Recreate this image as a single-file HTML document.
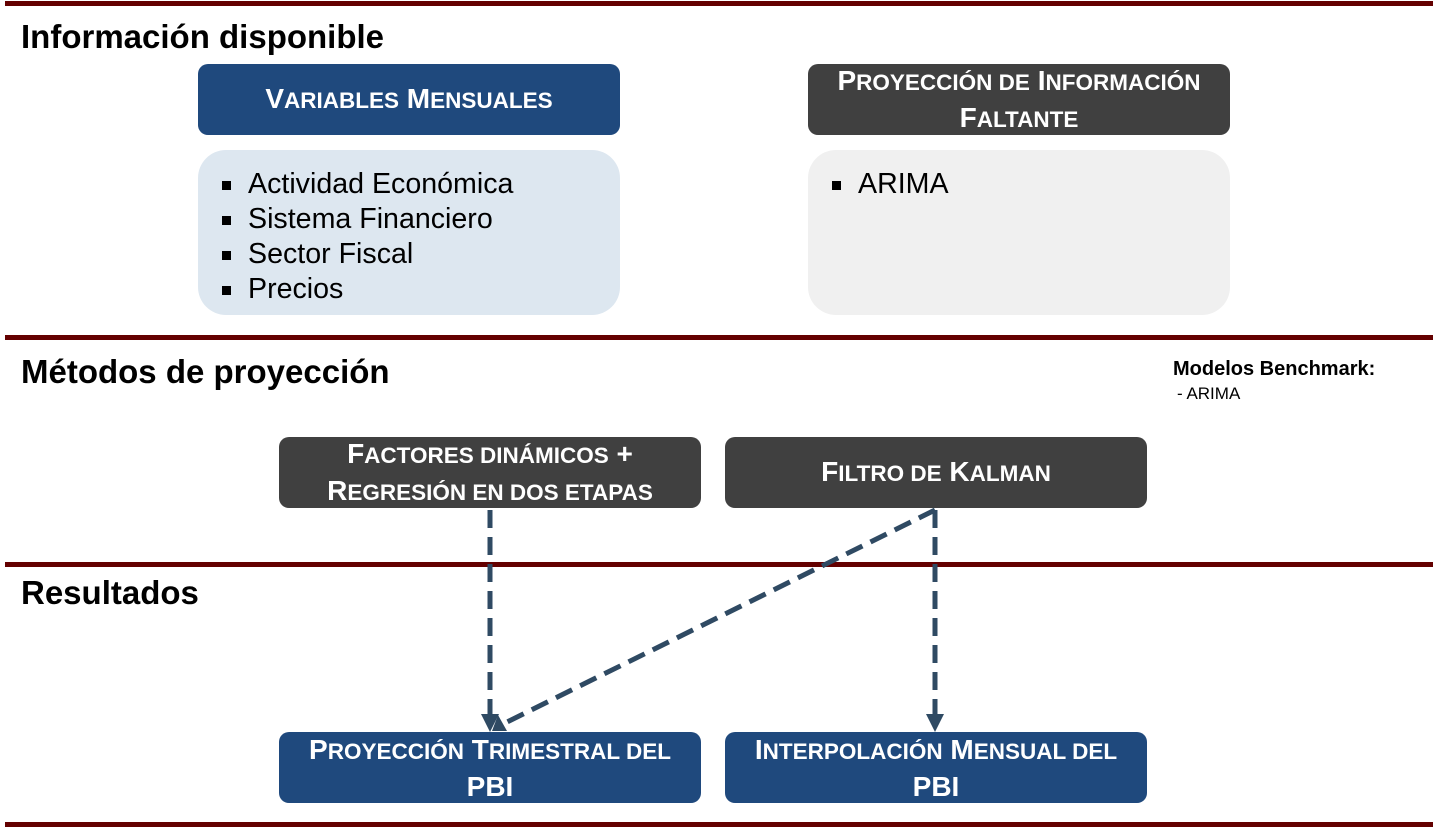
<!DOCTYPE html>
<html><head><meta charset="utf-8"><style>
body{margin:0;width:1436px;height:828px;background:#fff;position:relative;font-family:"Liberation Sans",Arial,sans-serif;overflow:hidden}
.line{position:absolute;left:5px;width:1428px;height:5px;background:#640000}
.h{position:absolute;font-weight:bold;font-size:33px;color:#000;font-family:"Liberation Sans",Arial,sans-serif}
.box{position:absolute;border-radius:10px;color:#fff;font-weight:bold;font-size:28px;display:flex;align-items:center;justify-content:center;text-align:center;line-height:35px;font-family:"Liberation Sans",Arial,sans-serif}
.s{font-size:22.5px;text-transform:uppercase}
.blue{background:#1f497d}
.dark{background:#404040}
.lt{position:absolute;border-radius:28px}
ul{margin:0;padding:0;list-style:none}
li{font-size:28.6px;line-height:35px;color:#000;position:relative;padding-left:26px;font-family:"Liberation Sans",Arial,sans-serif}
li:before{content:"";position:absolute;left:0;top:14px;width:9px;height:9px;background:#000}
</style></head><body>
<div class="line" style="top:1px"></div>
<div class="line" style="top:335px"></div>
<div class="line" style="top:562px"></div>
<div class="line" style="top:822px"></div>
<div class="h" style="left:21px;top:18px">Información disponible</div>
<div class="h" style="left:21px;top:353px">Métodos de proyección</div>
<div class="h" style="left:21px;top:574px">Resultados</div>
<div style="position:absolute;left:1173px;top:358px;font-weight:bold;font-size:20px">Modelos Benchmark:</div>
<div style="position:absolute;left:1177px;top:384px;font-size:17px">- ARIMA</div>
<div class="box blue" style="left:198px;top:64px;width:422px;height:71px"><span>V<span class="s">ariables</span> M<span class="s">ensuales</span></span></div>
<div class="lt" style="left:198px;top:150px;width:422px;height:165px;background:#dde7f0">
<ul style="margin:17px 0 0 24px"><li>Actividad Económica</li><li>Sistema Financiero</li><li>Sector Fiscal</li><li>Precios</li></ul></div>
<div class="box dark" style="left:808px;top:64px;width:422px;height:71px"><span>P<span class="s">royección de</span> I<span class="s">nformación</span><br>F<span class="s">altante</span></span></div>
<div class="lt" style="left:808px;top:150px;width:422px;height:165px;background:#f0f0f0">
<ul style="margin:17px 0 0 24px"><li>ARIMA</li></ul></div>
<div class="box dark" style="left:279px;top:437px;width:422px;height:71px"><span>F<span class="s">actores dinámicos</span> +<br>R<span class="s">egresión en dos etapas</span></span></div>
<div class="box dark" style="left:725px;top:437px;width:422px;height:71px"><span>F<span class="s">iltro de</span> K<span class="s">alman</span></span></div>
<div class="box blue" style="left:279px;top:732px;width:422px;height:71px"><span>P<span class="s">royección</span> T<span class="s">rimestral del</span><br>PBI</span></div>
<div class="box blue" style="left:725px;top:732px;width:422px;height:71px"><span>I<span class="s">nterpolación</span> M<span class="s">ensual del</span><br>PBI</span></div>
<svg style="position:absolute;left:0;top:0" width="1436" height="828">
<g stroke="#2f4a63" stroke-width="5" stroke-dasharray="18 9" fill="none">
<line x1="490" y1="510" x2="490" y2="716"/>
<line x1="935" y1="510" x2="935" y2="716"/>
<line x1="935" y1="510" x2="503" y2="724"/>
</g>
<g fill="#2f4a63">
<polygon points="481,714 499,714 490,732"/>
<polygon points="926,714 944,714 935,732"/>
<polygon points="492,731 498,715 507,731"/>
</g>
</svg>
</body></html>
